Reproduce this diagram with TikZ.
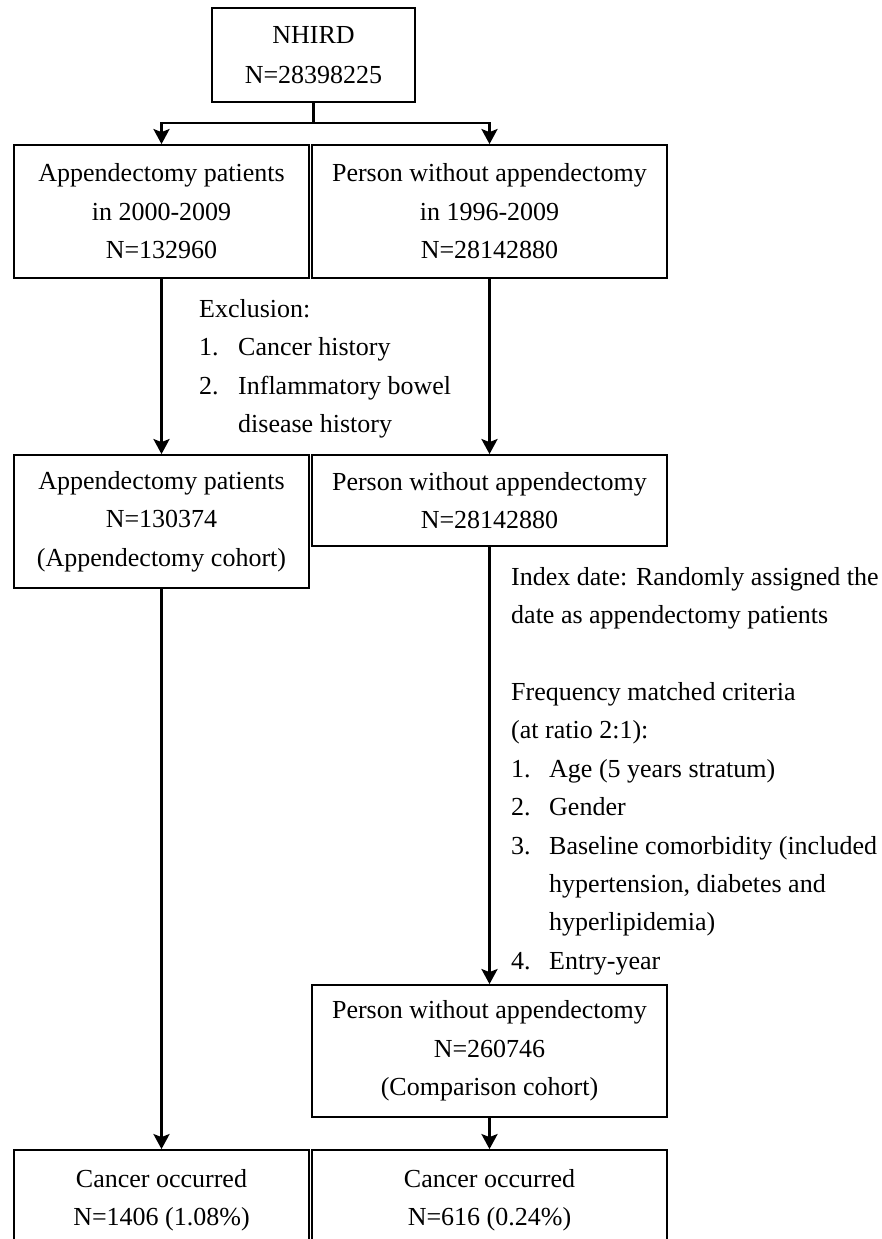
\documentclass[tikz,border=0pt]{standalone}
\usepackage{fontspec}
\setmainfont{Liberation Serif}
\usetikzlibrary{arrows.meta}
\begin{document}
\begin{tikzpicture}[x=1pt,y=-1pt,
  txt/.style={font=\fontsize{26}{38.4}\selectfont},
  box/.style={draw, line width=1.8pt, inner sep=0pt, align=center, txt},
  note/.style={inner sep=0pt, align=left, anchor=north west, txt},
  conn/.style={line width=2.8pt},
  arr/.style={conn, -{Stealth[length=15pt,width=16pt,inset=3pt]}}]
\clip (0,0) rectangle (882,1239);
\fill[white] (0,0) rectangle (882,1239);
% boxes
\node[box, minimum width=203pt, minimum height=94pt, font=\fontsize{26}{40}\selectfont] (N) at (313.5,55) {\raisebox{0pt}[20pt][0pt]{}NHIRD\\N=28398225\raisebox{0pt}[0pt][3pt]{}};
\node[box, minimum width=295pt, minimum height=133pt] (A1) at (161.5,211.5) {Appendectomy patients\\in 2000-2009\\N=132960};
\node[box, minimum width=355pt, minimum height=133pt] (B1) at (489.5,211.5) {Person without appendectomy\\in 1996-2009\\N=28142880};
\node[box, minimum width=295pt, minimum height=133pt] (A2) at (161.5,521.5) {Appendectomy patients\\N=130374\\(Appendectomy cohort)};
\node[box, minimum width=355pt, minimum height=91pt] (B2) at (489.5,500.5) {Person without appendectomy\\N=28142880};
\node[box, minimum width=355pt, minimum height=132pt] (B3) at (489.5,1051) {Person without appendectomy\\N=260746\\(Comparison cohort)};
\node[box, minimum width=295pt, minimum height=100pt] (A4) at (161.5,1200) {Cancer occurred\\N=1406 (1.08\%)};
\node[box, minimum width=355pt, minimum height=100pt] (B4) at (489.5,1200) {Cancer occurred\\N=616 (0.24\%)};
% notes
\node[note] (excl) at (199,299) {Exclusion:\\
\makebox[39pt][l]{1.}Cancer history\\
\makebox[39pt][l]{2.}Inflammatory bowel\\
\hspace*{39pt}disease history};
\node[note] (idx) at (511,567) {Index date: Randomly assigned the\\
date as appendectomy patients\\[38.4pt]
Frequency matched criteria\\
(at ratio 2:1):\\
\makebox[38pt][l]{1.}Age (5 years stratum)\\
\makebox[38pt][l]{2.}Gender\\
\makebox[38pt][l]{3.}Baseline comorbidity (included\\
\hspace*{38pt}hypertension, diabetes and\\
\hspace*{38pt}hyperlipidemia)\\
\makebox[38pt][l]{4.}Entry-year};
% connectors
\coordinate (j) at (313.5,123);
\draw[conn] (N.south) -- (j);
\draw[arr] (j) -| (A1.north);
\draw[arr] (j) -| (B1.north);
\draw[arr] (A1.south) -- (A2.north);
\draw[arr] (B1.south) -- (B2.north);
\draw[arr] (A2.south) -- (A4.north);
\draw[arr] (B2.south) -- (B3.north);
\draw[arr] (B3.south) -- (B4.north);
\end{tikzpicture}
\end{document}
